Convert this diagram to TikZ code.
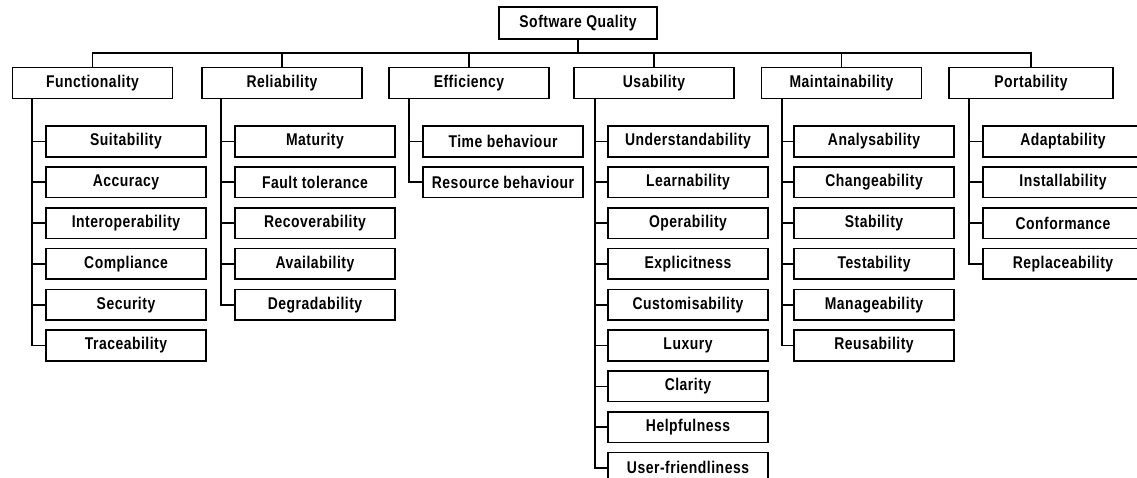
\documentclass[tikz,border=0pt]{standalone}
\usepackage{fontspec}
\setmainfont{Liberation Sans}[LetterSpace=3, FakeStretch=0.82]
\begin{document}
\begin{tikzpicture}[x=1pt,y=-1pt,
  box/.style={draw, line width=1.6pt, minimum width=160pt, minimum height=31pt,
    inner sep=0pt, font=\bfseries\fontsize{17}{19}\selectfont},
  kid/.style={box, minimum height=30.5pt},
  link/.style={line width=1.6pt}]
\useasboundingbox (0,0) rectangle (1137,478);
\clip (0,0) rectangle (1137,478);

% root and the bus below it
\node[box, minimum width=158pt, minimum height=32pt] (root) at (578,23) {Software Quality};
\coordinate (bus) at (578,53);

% characteristics
\node[box] (func) at (92.5,83) {Functionality};
\node[box] (rel)  at (282,83)  {Reliability};
\node[box] (eff)  at (469,83)  {Efficiency};
\node[box] (usa)  at (654,83)  {Usability};
\node[box] (mnt)  at (841.5,83) {Maintainability};
\node[box, minimum width=164pt] (port) at (1031,83) {Portability};

\draw[link] (root.south) -- (bus);
\draw[link] (func.north) |- (bus) -| (port.north);
\foreach \n in {rel,eff,usa,mnt}
  \draw[link] (\n.north) -- (\n.north |- bus);

% sub-characteristics
\foreach \t [count=\i] in {Suitability,Accuracy,Interoperability,Compliance,Security,Traceability}
  \node[kid] (func-\i) at (126,{141.5+40.8*(\i-1)}) {\t};
\foreach \t [count=\i] in {Maturity,Fault tolerance,Recoverability,Availability,Degradability}
  \node[kid] (rel-\i) at (315,{141.5+40.8*(\i-1)}) {\t};
\foreach \t [count=\i] in {Time behaviour,Resource behaviour}
  \node[kid] (eff-\i) at (503,{141.5+40.8*(\i-1)}) {\t};
\foreach \t [count=\i] in {Understandability,Learnability,Operability,Explicitness,Customisability,Luxury,Clarity,Helpfulness,User-friendliness}
  \node[kid] (usa-\i) at (688,{141.5+40.8*(\i-1)}) {\t};
\foreach \t [count=\i] in {Analysability,Changeability,Stability,Testability,Manageability,Reusability}
  \node[kid] (mnt-\i) at (874,{141.5+40.8*(\i-1)}) {\t};
\foreach \t [count=\i] in {Adaptability,Installability,Conformance,Replaceability}
  \node[kid] (port-\i) at (1063,{141.5+40.8*(\i-1)}) {\t};

% spines
\coordinate (func-sp) at (32,83);
\coordinate (rel-sp)  at (221,83);
\coordinate (eff-sp)  at (409,83);
\coordinate (usa-sp)  at (595,83);
\coordinate (mnt-sp)  at (782,83);
\coordinate (port-sp) at (969,83);

\foreach \n/\last in {func/6,rel/5,eff/2,usa/9,mnt/6,port/4}{
  \draw[link] (\n.south -| \n-sp) |- (\n-\last.west);
  \pgfmathtruncatemacro\prev{\last-1}
  \foreach \i in {1,...,\prev}
    \draw[link] (\n-\i.west) -- (\n-\i.west -| \n-sp);
}
\end{tikzpicture}
\end{document}
